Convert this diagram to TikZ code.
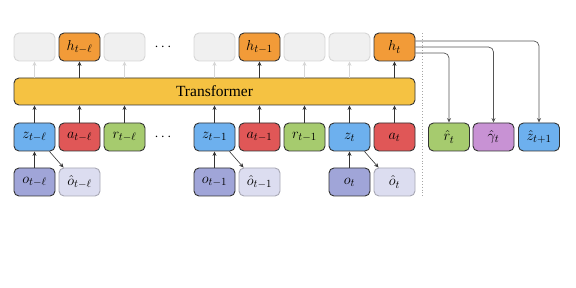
\documentclass[tikz,border=0pt]{standalone}
\usepackage{fontspec}
\setmainfont{Liberation Serif}
\usetikzlibrary{arrows.meta,calc}
\definecolor{edge}{HTML}{333333}
\definecolor{gfill}{HTML}{F0F0F0}
\definecolor{gdraw}{HTML}{D6D6D6}
\definecolor{orng}{HTML}{F29B38}
\definecolor{trf}{HTML}{F5C242}
\definecolor{blu}{HTML}{6DB0EE}
\definecolor{rd}{HTML}{E05757}
\definecolor{grn}{HTML}{A6CB6E}
\definecolor{prp}{HTML}{A0A5D8}
\definecolor{lprp}{HTML}{DCDDF0}
\definecolor{lprpd}{HTML}{A8A8B4}
\definecolor{gam}{HTML}{C892D4}
\definecolor{lnk}{HTML}{555555}
\begin{document}
\begin{tikzpicture}[x=1pt,y=1pt,
  font=\fontsize{15.5}{18}\selectfont,
  box/.style={draw=edge, rounded corners=5pt, minimum width=41pt, minimum height=28pt, line width=0.9pt, inner sep=0pt},
  ghost/.style={box, draw=gdraw, fill=gfill},
  arr/.style={-{Stealth[length=4.5pt,width=4pt]}, line width=0.6pt, draw=edge},
  garr/.style={-{Stealth[length=4.5pt,width=4pt]}, line width=0.6pt, draw=gdraw},
  rarr/.style={-{Stealth[length=4.5pt,width=4pt]}, line width=0.7pt, draw=lnk, rounded corners=5pt}]
\useasboundingbox (0,0) rectangle (576,-288);
% top row
\node[ghost] (g1) at (34.5,-47) {};
\node[box, fill=orng] (hl) at (79.5,-47) {$h_{t-\ell}$};
\node[ghost] (g2) at (124.5,-47) {};
\node (d1) at (163,-47) {$\cdots$};
\node[ghost] (g3) at (214.5,-47) {};
\node[box, fill=orng] (h1) at (259.5,-47) {$h_{t-1}$};
\node[ghost] (g4) at (304.5,-47) {};
\node[ghost] (g5) at (349.5,-47) {};
\node[box, fill=orng] (ht) at (394.5,-47) {$h_t$};
% transformer
\node[box, fill=trf, minimum width=401pt, minimum height=27pt] (tr) at (214.5,-91.5) {Transformer};
% middle row
\node[box, fill=blu] (zl) at (34.5,-137) {$z_{t-\ell}$};
\node[box, fill=rd] (al) at (79.5,-137) {$a_{t-\ell}$};
\node[box, fill=grn] (rl) at (124.5,-137) {$r_{t-\ell}$};
\node (d2) at (163,-137) {$\cdots$};
\node[box, fill=blu] (z1) at (214.5,-137) {$z_{t-1}$};
\node[box, fill=rd] (a1) at (259.5,-137) {$a_{t-1}$};
\node[box, fill=grn] (r1) at (304.5,-137) {$r_{t-1}$};
\node[box, fill=blu] (zt) at (349.5,-137) {$z_t$};
\node[box, fill=rd] (at) at (394.5,-137) {$a_t$};
% bottom row
\node[box, fill=prp] (ol) at (34.5,-182) {$o_{t-\ell}$};
\node[box, fill=lprp, draw=lprpd] (ohl) at (79.5,-182) {$\hat{o}_{t-\ell}$};
\node[box, fill=prp] (o1) at (214.5,-182) {$o_{t-1}$};
\node[box, fill=lprp, draw=lprpd] (oh1) at (259.5,-182) {$\hat{o}_{t-1}$};
\node[box, fill=prp] (ot) at (349.5,-182) {$o_t$};
\node[box, fill=lprp, draw=lprpd] (oht) at (394.5,-182) {$\hat{o}_t$};
% outputs
\node[box, fill=grn] (rh) at (449,-137) {$\hat{r}_t$};
\node[box, fill=gam] (gh) at (493.5,-137) {$\hat{\gamma}_t$};
\node[box, fill=blu] (zh) at (539,-137) {$\hat{z}_{t+1}$};
% divider
\coordinate (dv1) at (422,-33);
\coordinate (dv2) at (422,-196);
\draw[gray!70, dotted, line width=0.9pt] (dv1) -- (dv2);
% arrows into transformer
\foreach \n in {zl,al,rl,z1,a1,r1,zt,at} \draw[arr] (\n.north) -- (\n.north |- tr.south);
% arrows out of transformer
\foreach \n in {hl,h1,ht} \draw[arr] (\n.south |- tr.north) -- (\n.south);
\foreach \n in {g1,g2,g3,g4,g5} \draw[garr] (\n.south |- tr.north) -- (\n.south);
% o -> z
\draw[arr] (ol.north) -- (zl.south);
\draw[arr] (o1.north) -- (z1.south);
\draw[arr] (ot.north) -- (zt.south);
% z -> o hat
\draw[arr] ($(zl.south east)+(-6,0)$) -- ($(ohl.north west)+(5,0)$);
\draw[arr] ($(z1.south east)+(-6,0)$) -- ($(oh1.north west)+(5,0)$);
\draw[arr] ($(zt.south east)+(-6,0)$) -- ($(oht.north west)+(5,0)$);
% right outputs
\draw[rarr] ([yshift=6pt]ht.east) -| (zh.north);
\draw[rarr] (ht.east) -| (gh.north);
\draw[rarr] ([yshift=-6pt]ht.east) -| (rh.north);
\end{tikzpicture}
\end{document}
